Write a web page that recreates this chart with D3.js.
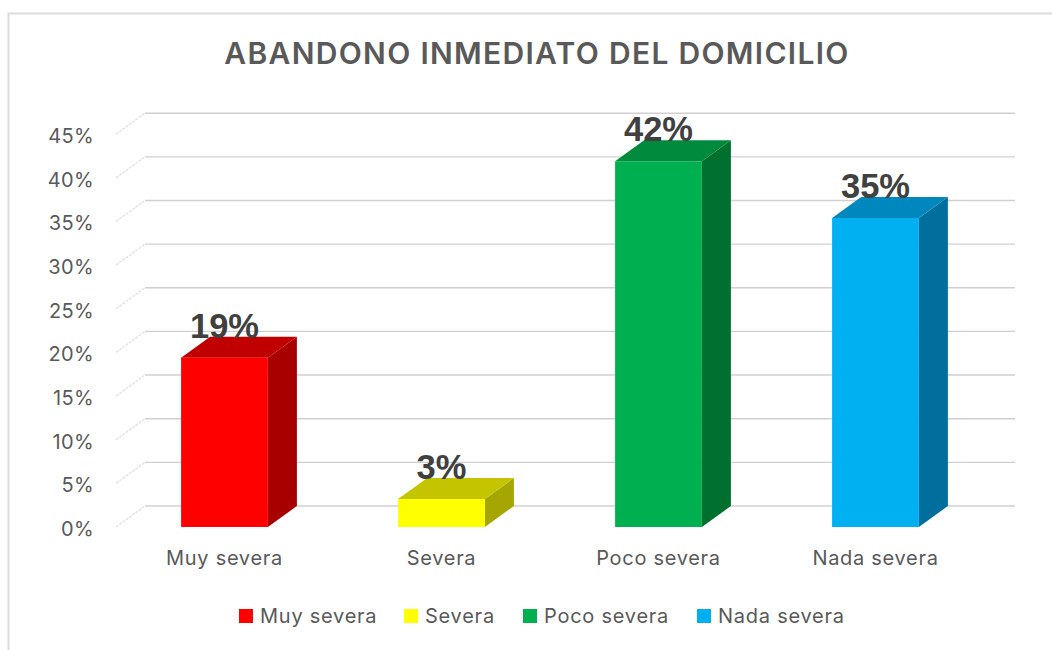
<!DOCTYPE html>
<html><head><meta charset="utf-8">
<script src="https://cdn.jsdelivr.net/npm/d3@7/dist/d3.min.js"></script>
<style>html,body{margin:0;background:#fff}svg{display:block}text{font-family:Inter,"Noto Sans",sans-serif}</style>
</head><body><svg id="c" width="1052" height="650"></svg>
<script>
const chartTitle = "ABANDONO INMEDIATO DEL DOMICILIO";
const categories = ["Muy severa","Severa","Poco severa","Nada severa"];
const heights = [19.4,3.2,41.9,35.4];
const labels = ["19%","3%","42%","35%"];
const yTicks = [0,5,10,15,20,25,30,35,40,45];
const frontColors = ["#FF0000","#FFFF00","#00B050","#00B0F0"];
const topColors = ["#C00000","#C4C400","#008A3E","#0088BE"];
const sideColors = ["#A80000","#A6A600","#00702F","#006F9E"];
const legendX = [239,404,523,697];

const svg = d3.select("#c");
const x = d3.scaleBand().domain(categories).range([116,984]).paddingInner(0.6).paddingOuter(0.3);
const y = d3.scaleLinear().domain([0,45]).range([527,134.2]);
const dx = 29, dy = -21;

svg.append("path").attr("d","M8.5,650V13.5H1052").attr("fill","none").attr("stroke","#dcdcdc").attr("stroke-width",2);

svg.append("text").attr("x",537).attr("y",64).attr("text-anchor","middle")
  .attr("font-size",30).attr("font-weight",600).attr("letter-spacing",1.3).attr("fill","#595959").text(chartTitle);

const grid = svg.append("g").selectAll("g").data(yTicks).join("g");
grid.append("line").attr("x1",dx+116).attr("x2",1015).attr("y1",d=>y(d)+dy).attr("y2",d=>y(d)+dy)
  .attr("stroke","#d0d0d0").attr("stroke-width",1.4);
grid.append("line").attr("x1",116).attr("x2",dx+116).attr("y1",d=>y(d)).attr("y2",d=>y(d)+dy)
  .attr("stroke","#e2e2e2").attr("stroke-width",1.4).attr("stroke-dasharray","3 1");

const yAxis = svg.append("g").attr("transform","translate(94,2)")
  .call(d3.axisLeft(y).tickValues(yTicks).tickFormat(d=>d+"%").tickSize(0).tickPadding(0));
yAxis.select(".domain").remove();
yAxis.selectAll("text").attr("font-size",20).attr("letter-spacing",0.35).attr("fill","#595959").attr("font-family","Inter,sans-serif");

const xAxis = svg.append("g").attr("transform","translate(0,551)")
  .call(d3.axisBottom(x).tickSize(0).tickPadding(0));
xAxis.select(".domain").remove();
xAxis.selectAll("text").attr("font-size",20).attr("letter-spacing",0.7).attr("fill","#595959").attr("font-family","Inter,sans-serif");

const bars = svg.append("g").selectAll("g").data(categories).join("g");
const X = c=>x(c), W = x.bandwidth(), V = (c,i)=>y(heights[i]);
bars.append("path").attr("fill",(c,i)=>sideColors[i]).attr("d",(c,i)=>{
  const r=X(c)+W,t=V(c,i),b=y(0);
  return `M${r},${t}L${r+dx},${t+dy}L${r+dx},${b+dy}L${r},${b}Z`;});
bars.append("path").attr("fill",(c,i)=>topColors[i]).attr("d",(c,i)=>{
  const l=X(c),t=V(c,i);
  return `M${l},${t}L${l+dx},${t+dy}L${l+W+dx},${t+dy}L${l+W},${t}Z`;});
bars.append("rect").attr("x",X).attr("y",V).attr("width",W).attr("height",(c,i)=>y(0)-V(c,i)).attr("fill",(c,i)=>frontColors[i]);
bars.append("text").attr("x",c=>X(c)+W/2).attr("y",(c,i)=>V(c,i)-20).attr("text-anchor","middle")
  .style("font-family","'Liberation Sans',Arial,sans-serif").attr("font-weight",700).attr("font-size",34.5).attr("fill","#404040").text((c,i)=>labels[i]);

const leg = svg.append("g").selectAll("g").data(categories).join("g").attr("transform",(c,i)=>`translate(${legendX[i]},0)`);
leg.append("rect").attr("y",609).attr("width",14).attr("height",14).attr("fill",(c,i)=>frontColors[i]);
leg.append("text").attr("x",21).attr("y",623).attr("font-size",20).attr("letter-spacing",0.75).attr("fill","#595959").text(c=>c);
</script></body></html>
